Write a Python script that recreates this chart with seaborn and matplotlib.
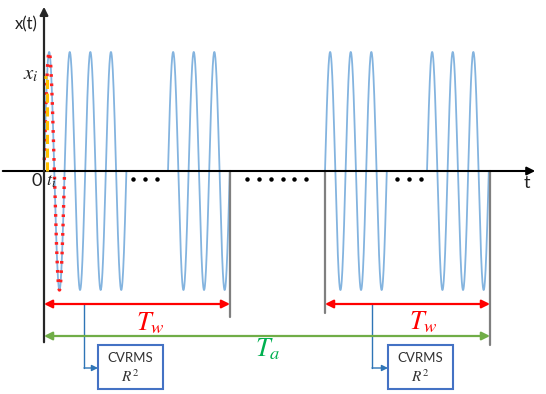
import numpy as np
import pandas as pd
import matplotlib
matplotlib.use("Agg")
import matplotlib.pyplot as plt
from matplotlib.patches import Rectangle
import seaborn as sns

# ---- data (time in px-like units from origin, amplitude normalised) ----
period = 20.6
group_start = [0, 124, 281, 383]
group_cycles = [4, 3, 3, 3]
window_edges = [(0, 186), (281, 446)]      # T_w windows
analysis_span = (0, 446)                   # T_a
cut_lines_t = [186, 281, 446]
cut_lines_depth = [-1.227, -1.193, -1.462]
dots_groups = [[89, 101, 113], [203, 215, 227, 239, 250, 262], [353, 365, 377]]
t_i = 3.0
labels_box = ["CVRMS", "$R^2$"]

sns.set_theme(style="white")
plt.rcParams['mathtext.fontset'] = 'stix'
plt.rcParams['font.family'] = ['Lato', 'DejaVu Sans']

fig = plt.figure(figsize=(5.46, 3.94), dpi=100)
ax = fig.add_axes([0, 0, 1, 1])
ax.set_xlim(-44, 502)
ax.set_ylim((171 - 394) / 119, 171 / 119)
ax.axis("off")

def P(px, py):
    return px - 44, (171 - py) / 119

# sine groups
rows = []
for g, (s, c) in enumerate(zip(group_start, group_cycles)):
    t = np.linspace(0, c * period, 400)
    for tt in t:
        rows.append({"t": s + tt, "x": np.sin(2 * np.pi * tt / period), "g": g})
df = pd.DataFrame(rows)
sns.lineplot(data=df, x="t", y="x", units="g", estimator=None, color="#5B9BD5",
             lw=1.3, alpha=0.75, ax=ax, legend=False)

# red dotted first cycle
tr = np.linspace(0.3, period, 300)
dfr = pd.DataFrame({"t": tr, "x": np.sin(2 * np.pi * tr / period)})
sns.lineplot(data=dfr, x="t", y="x", color="#FF2020", lw=2.4, ax=ax,
             dashes=False, legend=False).lines[-1].set_dashes([0.8, 2.0])

# yellow dashed t_i / x_i
xi = np.sin(2 * np.pi * t_i / period)
ax.plot([t_i, t_i], [0, xi], color="#FFC000", lw=2.2, dashes=[3, 1.5], zorder=4)
ax.plot([0, t_i], [xi, xi], color="#FFC000", lw=2.2, dashes=[3, 1.5], zorder=4)

# cut lines
for ct, d in zip(cut_lines_t, cut_lines_depth):
    ax.plot([ct, ct], [0, d], color="#7F7F7F", lw=1.6, zorder=3)

# axes
ax.annotate("", xy=P(538, 171), xytext=P(0, 171),
            arrowprops=dict(arrowstyle="-|>", color="black", lw=1.5, mutation_scale=12))
ax.annotate("", xy=P(44, 4), xytext=P(44, 345),
            arrowprops=dict(arrowstyle="-|>", color="#262626", lw=1.6, mutation_scale=12))

# dots
for grp in dots_groups:
    ax.plot(grp, [P(0, 179)[1]] * len(grp), "o", color="black", ms=2.2, lw=0)

# Tw arrows
yw = P(0, 304)[1]
for a, b in window_edges:
    ax.annotate("", xy=(b, yw), xytext=(a, yw),
                arrowprops=dict(arrowstyle="<|-|>", color="#FF0000", lw=1.6,
                                mutation_scale=12, shrinkA=0, shrinkB=0))
ya = P(0, 336)[1]
ax.annotate("", xy=(analysis_span[1], ya), xytext=(analysis_span[0], ya),
            arrowprops=dict(arrowstyle="<|-|>", color="#70AD47", lw=1.6,
                            mutation_scale=12, shrinkA=0, shrinkB=0))

ax.text(*P(150, 323), "$T_w$", color="#FF0000", fontsize=19, ha="center", va="center")
ax.text(*P(423, 322), "$T_w$", color="#FF0000", fontsize=19, ha="center", va="center")
ax.text(*P(268, 349), "$T_a$", color="#00B050", fontsize=19, ha="center", va="center")

# connectors and boxes
for cx, bx in [(84, 98), (372, 388)]:
    x0, y0 = P(cx, 304)
    x1, y1 = P(cx, 368)
    ax.plot([x0, x1], [y0, y1], color="#2E75B6", lw=1.0)
    ax.annotate("", xy=P(bx, 368), xytext=(x1, y1),
                arrowprops=dict(arrowstyle="-|>", color="#2E75B6", lw=1.0,
                                mutation_scale=9, shrinkA=0, shrinkB=0))
    bl = P(bx, 389)
    tr_ = P(bx + 65, 345)
    ax.add_patch(Rectangle(bl, tr_[0] - bl[0], tr_[1] - bl[1], facecolor="white",
                           edgecolor="#4472C4", lw=1.5, zorder=5))
    ax.text(*P(bx + 32, 358), labels_box[0], fontsize=9.5, color="#333333",
            ha="center", va="center", zorder=6)
    ax.text(*P(bx + 32, 377), labels_box[1], fontsize=11, color="#333333",
            ha="center", va="center", zorder=6)

# labels
ax.text(*P(26, 24), "x(t)", fontsize=12, ha="center", va="center", color="#222222")
ax.text(*P(31, 74), "$x_i$", fontsize=15, ha="center", va="center", color="#222222")
ax.text(*P(37, 181), "0", fontsize=13, ha="center", va="center", color="#222222")
ax.text(*P(51, 182), "$t_i$", fontsize=13, ha="center", va="center", color="#222222")
ax.text(*P(527, 183), "t", fontsize=13, ha="center", va="center", color="#222222")

fig.savefig("out.png", dpi=100)
